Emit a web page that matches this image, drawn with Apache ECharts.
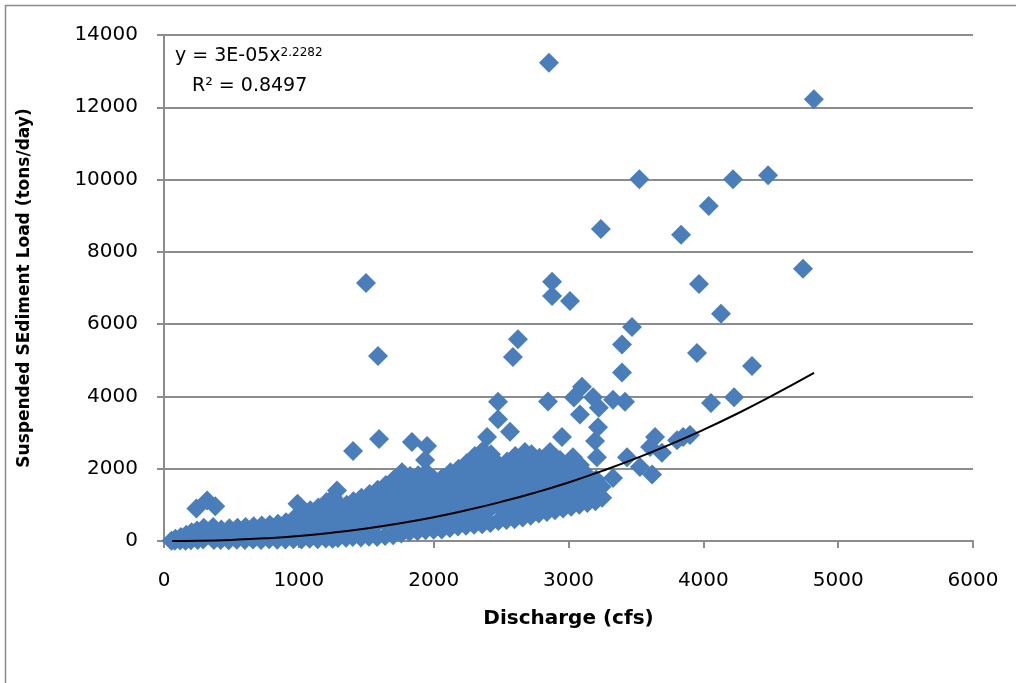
<!DOCTYPE html>
<html>
<head>
<meta charset="utf-8">
<script src="https://cdn.jsdelivr.net/npm/echarts@6/dist/echarts.min.js"></script>
<style>
  html, body { margin: 0; padding: 0; background: #fff; }
  #main { width: 1016px; height: 683px; }
</style>
</head>
<body>
<div id="main"></div>
<script>
// discharge (cfs), suspended load (tons/day)
var lowFlow = [
  [55,5],[80,10],[85,60],[120,15],[125,110],[160,10],[165,170],[200,20],[205,240],
  [240,900],[250,30],[245,290],[290,40],[295,370],[320,1120],[330,180],[370,25],
  [365,390],[380,960],[420,30],[425,320],[415,200],[480,20],[485,350],[475,190],
  [540,35],[545,370],[535,210],[600,25],[605,390],[595,220],[660,40],[665,410],
  [655,230],[720,30],[725,430],[715,240],[780,45],[785,450],[775,250],[840,35],
  [845,480],[835,260],[900,40],[905,520],[895,280],[960,50],[965,620],[955,330],
  [990,1030]
];
var midFlow = [
  [1020,40],[1025,760],[1015,400],[1080,60],[1085,850],[1075,450],[1090,250],
  [1140,50],[1145,930],[1135,600],[1150,300],[1200,70],[1205,1080],[1195,750],
  [1210,400],[1250,60],[1255,1200],[1245,880],[1260,500],[1240,250],[1290,80],
  [1283,1400],[1295,1000],[1300,600],[1280,300],[1350,90],[1355,1000],[1345,700],
  [1360,400],[1400,110],[1405,1100],[1395,800],[1410,450],[1460,100],[1465,1200],
  [1455,900],[1470,600],[1450,330],[1520,120],[1525,1300],[1515,1000],[1530,700],
  [1510,400],[1580,110],[1585,1420],[1575,1100],[1590,800],[1570,450],[1640,140],
  [1645,1550],[1635,1250],[1650,900],[1630,550],[1700,160],[1705,1700],[1695,1400],
  [1710,1050],[1690,700],[1715,400],[1760,210],[1765,1900],[1755,1600],[1770,1250],
  [1750,900],[1775,550],[1820,250],[1825,1800],[1815,1500],[1830,1150],[1810,800],
  [1835,500],[1880,270],[1885,1820],[1875,1500],[1890,1200],[1870,850],[1895,560],
  [1936,2240],[1940,300],[1945,1900],[1935,1600],[1950,1250],[1930,900],[1955,600]
];
var highFlow = [
  [2000,310],[2005,1700],[2010,1400],[1995,1100],[2015,800],[1990,550],
  [2060,320],[2065,1750],[2055,1450],[2070,1150],[2050,850],[2075,600],
  [2120,360],[2125,1900],[2115,1600],[2130,1300],[2110,1000],[2135,700],
  [2180,400],[2185,2000],[2175,1700],[2190,1400],[2170,1100],[2195,800],
  [2240,420],[2245,2150],[2235,1850],[2250,1550],[2230,1250],[2255,950],[2245,700],
  [2300,450],[2305,2350],[2295,2050],[2310,1750],[2290,1450],[2315,1150],[2300,850],
  [2360,460],[2365,2500],[2355,2200],[2370,1900],[2350,1600],[2375,1300],[2360,1000],[2365,720],
  [2420,500],[2425,2400],[2415,2100],[2430,1800],[2410,1500],[2435,1200],[2420,900],
  [2480,550],[2485,2100],[2475,1800],[2490,1500],[2470,1200],[2495,900],
  [2540,580],[2545,2200],[2535,1900],[2550,1600],[2530,1300],[2555,1000],
  [2600,600],[2605,2350],[2595,2050],[2610,1750],[2590,1450],[2615,1150],[2600,850],
  [2660,650],[2677,2460],[2655,2150],[2670,1850],[2650,1550],[2675,1250],[2660,950],
  [2720,700],[2725,2400],[2715,2100],[2730,1800],[2710,1500],[2735,1200],[2720,950],
  [2780,760],[2785,2300],[2775,2000],[2790,1700],[2770,1400],[2795,1100],
  [2840,800],[2863,2460],[2835,2150],[2850,1850],[2830,1550],[2855,1250],[2840,1000],
  [2900,850],[2905,2300],[2895,2000],[2910,1700],[2890,1400],[2915,1150],
  [2960,900],[2937,2240],[2955,1950],[2970,1650],[2950,1350],[2975,1100],
  [3033,2320],[3020,950],[3015,2000],[3030,1700],[3010,1400],[3035,1150],
  [3085,2100],[3080,1000],[3075,1800],[3090,1500],[3070,1250],
  [3140,1050],[3145,1800],[3135,1550],[3150,1300],
  [3200,1100],[3205,1700],[3195,1450],
  [3250,1200],[3245,1500]
];
var scattered = [
  [2855,13230],[4820,12220],[4480,10120],[4220,10010],[3525,10010],[4040,9270],
  [3240,8630],[3835,8470],[2878,7170],[2878,6780],[3011,6640],[1498,7140],
  [3968,7110],[4739,7530],[4131,6290],[3471,5920],[2625,5580],[1587,5120],
  [2588,5090],[3397,5440],[3397,4660],[3953,5200],[4361,4840],[4057,3820],
  [4228,3980],[3100,4270],[3040,3970],[3182,3980],[3085,3500],[3225,3690],
  [3330,3910],[3419,3850],[2848,3860],[2477,3850],[2477,3370],[2566,3020],
  [3219,3150],[3197,2770],[2952,2880],[2396,2880],[1951,2630],[1839,2740],
  [1595,2820],[1402,2490],[3211,2320],[3434,2320],[3530,2050],[3330,1740],
  [3620,1840],[3642,2880],[3605,2600],[3693,2440],[3805,2790],[3850,2880],
  [3901,2930]
];

// power trend line y = 3E-05x^2.2282
var trendQ = [60, 250, 500, 750, 1000, 1250, 1500, 1750, 2000, 2250, 2500, 2750,
              3000, 3250, 3500, 3750, 4000, 4250, 4500, 4821];
var trendLoad = [0, 6, 30, 74, 140, 231, 347, 489, 656, 855, 1082, 1335,
                 1620, 1939, 2286, 2666, 3077, 3521, 3999, 4650];

var xTicks = [0, 1000, 2000, 3000, 4000, 5000, 6000];
var yTicks = [0, 2000, 4000, 6000, 8000, 10000, 12000, 14000];

var pts = lowFlow.concat(midFlow, highFlow, scattered);
var trend = trendQ.map(function (q, i) { return [q, trendLoad[i]]; });

var font = 'DejaVu Sans';
var plain = function (v) { return String(v); };
var chart = echarts.init(document.getElementById('main'));
var option = {
  animation: false,
  backgroundColor: '#fff',
  grid: { left: 164, right: 43, top: 35, bottom: 142, containLabel: false },
  xAxis: {
    type: 'value',
    min: xTicks[0], max: xTicks[xTicks.length - 1], interval: 1000,
    name: 'Discharge (cfs)',
    nameLocation: 'middle',
    nameGap: 68,
    nameTextStyle: { fontFamily: font, fontWeight: 'bold', fontSize: 20, color: '#000' },
    axisLine: { lineStyle: { color: '#8c8c8c', width: 2 } },
    axisTick: { show: true, length: 7, lineStyle: { color: '#8c8c8c', width: 2 } },
    axisLabel: { margin: 30, fontFamily: font, fontSize: 20, color: '#000', formatter: plain },
    splitLine: { show: false }
  },
  yAxis: {
    type: 'value',
    min: yTicks[0], max: yTicks[yTicks.length - 1], interval: 2000,
    name: 'Suspended SEdiment Load (tons/day)',
    nameLocation: 'middle',
    nameGap: 131,
    nameTextStyle: { fontFamily: font, fontWeight: 'bold', fontSize: 17, color: '#000' },
    axisLine: { show: true, lineStyle: { color: '#8c8c8c', width: 2 } },
    axisTick: { show: true, length: 7, lineStyle: { color: '#8c8c8c', width: 2 } },
    axisLabel: { margin: 26, fontFamily: font, fontSize: 20, color: '#000', formatter: plain },
    splitLine: { show: true, lineStyle: { color: '#8c8c8c', width: 2 } }
  },
  graphic: [
    {
      type: 'rect', silent: true,
      shape: { x: 5.5, y: 5.5, width: 1200, height: 1200 },
      style: { fill: 'none', stroke: '#8c8c8c', lineWidth: 1.5 }
    },
    {
      type: 'text', left: 175, top: 47, z: 100,
      style: {
        text: '{a|y = 3E-05x}{b|2.2282}',
        rich: {
          a: { fontFamily: font, fontSize: 19, fill: '#000', verticalAlign: 'bottom' },
          b: { fontFamily: font, fontSize: 12, fill: '#000', verticalAlign: 'top' }
        }
      }
    },
    {
      type: 'text', left: 192, top: 77, z: 100,
      style: { text: 'R² = 0.8497', fontFamily: font, fontSize: 19, fill: '#000' }
    }
  ],
  series: [
    {
      name: 'load',
      type: 'scatter',
      symbol: 'diamond',
      symbolSize: 20,
      itemStyle: { color: '#4a7ebb', opacity: 1 },
      data: pts,
      z: 2
    },
    {
      name: 'trend',
      type: 'line',
      smooth: true,
      showSymbol: false,
      symbol: 'none',
      lineStyle: { color: '#000', width: 2 },
      data: trend,
      z: 3
    }
  ]
};
chart.setOption(option);
</script>
</body>
</html>
